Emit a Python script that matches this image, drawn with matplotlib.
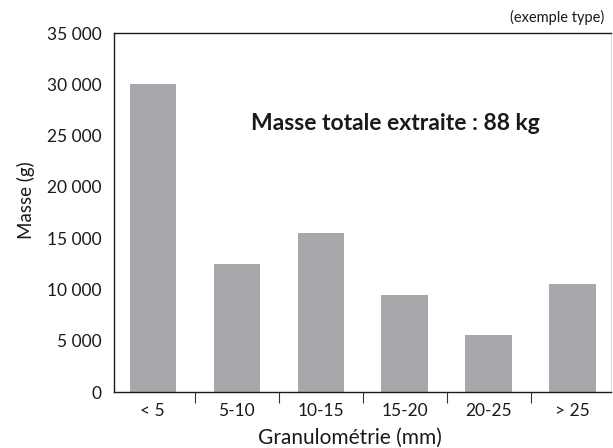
import matplotlib
matplotlib.use("Agg")
import matplotlib.pyplot as plt
from matplotlib.ticker import FuncFormatter, FixedLocator
import numpy as np

# data
categories = ["< 5", "5-10", "10-15", "15-20", "20-25", "> 25"]
masses = [30000, 12500, 15500, 9500, 5600, 10500]
yticks = [0, 5000, 10000, 15000, 20000, 25000, 30000, 35000]

plt.rcParams['font.family'] = ['Lato', 'DejaVu Sans']

fig = plt.figure(figsize=(6.13, 4.48), dpi=100)
ax = fig.add_axes([0.186, 0.125, 0.811, 0.801])

x = np.arange(len(categories))
ax.bar(x, masses, width=0.55, color="#a7a8ab", zorder=2)

ax.set_xlim(-0.46, len(categories) - 0.54)
ax.set_ylim(0, 35000)

ax.set_yticks(yticks)
ax.yaxis.set_major_formatter(FuncFormatter(lambda v, p: f"{int(v):,}".replace(",", " ")))
ax.tick_params(axis='y', length=0, pad=9, labelsize=12.5, colors="#1a1a1a")

# labels centered under bars, tick marks between bars
ax.set_xticks(x)
ax.set_xticklabels(categories)
ax.tick_params(axis='x', which='major', length=0, pad=8, labelsize=12.5, colors="#1a1a1a")
ax.xaxis.set_minor_locator(FixedLocator(x[:-1] + 0.5))
ax.tick_params(axis='x', which='minor', length=8, width=0.8, direction='out', color="#333333")

for s in ["left", "bottom", "top"]:
    ax.spines[s].set_color("#1a1a1a")
    ax.spines[s].set_linewidth(1.0)
ax.spines["right"].set_color("#dddddd")

ax.set_ylabel("Masse (g)", fontsize=13.5, color="#1a1a1a")
ax.yaxis.set_label_coords(-0.158, 0.535)
ax.set_xlabel("Granulométrie (mm)", fontsize=15, color="#1a1a1a")
ax.xaxis.set_label_coords(0.475, -0.1)

ax.text(0.566, 0.749, "Masse totale extraite : 88 kg", transform=ax.transAxes,
        ha="center", va="center", fontsize=16.5, fontweight="bold", color="#1a1a1a")
fig.text(0.985, 0.96, "(exemple type)", ha="right", va="center", fontsize=10.5, color="#1a1a1a")

fig.savefig("out.png", dpi=100)
